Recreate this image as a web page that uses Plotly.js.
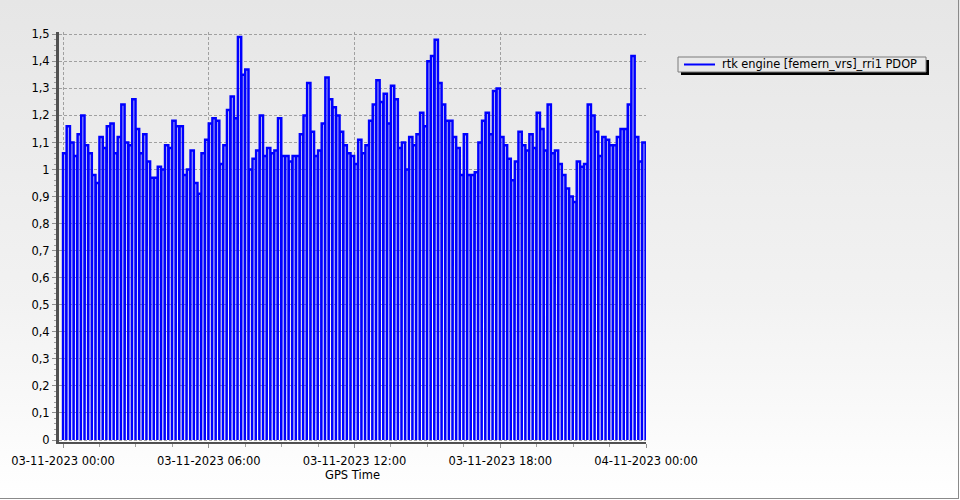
<!DOCTYPE html>
<html>
<head>
<meta charset="utf-8">
<script src="https://cdn.plot.ly/plotly-3.0.1.min.js"></script>
<style>
  html, body { margin: 0; padding: 0; }
  #wrap { position: relative; width: 960px; height: 500px;
          background: linear-gradient(to bottom, #e6e6e6 0%, #f2f2f2 60%, #ffffff 100%); }
  #chart { position: absolute; left: 0; top: 0; width: 960px; height: 500px; }
  #frame { position: absolute; left: 0; top: 0; width: 958px; height: 498px;
           border-right: 1px solid #8a8a8a; border-bottom: 1px solid #8a8a8a; pointer-events: none; }
</style>
</head>
<body>
<div id="wrap"><div id="chart"></div><div id="frame"></div></div>
<script>
// ---- data ----
const seriesName = "rtk engine [femern_vrs]_rri1 PDOP";
const xTitle = "GPS Time";
const startTime = "2023-11-03T00:00:00Z";
const cycleMinutes = 9;      // one logging cycle, ends with an invalid (0) record
const validMinutes = 8;      // valid part of each cycle
const pdop = [
  1.06, 1.16, 1.10, 1.05, 1.13, 1.20, 1.09, 1.06, 0.98, 0.95,
  1.12, 1.08, 1.16, 1.17, 1.06, 1.12, 1.24, 1.10, 1.09, 1.26,
  1.15, 1.06, 1.13, 1.03, 0.97, 0.97, 1.01, 1.00, 1.09, 1.08,
  1.18, 1.16, 1.16, 0.98, 1.00, 1.07, 0.95, 0.91, 1.06, 1.11,
  1.17, 1.19, 1.18, 1.02, 1.09, 1.22, 1.27, 1.19, 1.49, 1.35,
  1.37, 1.00, 1.04, 1.07, 1.20, 1.05, 1.08, 1.06, 1.07, 1.19,
  1.05, 1.05, 1.03, 1.05, 1.05, 1.13, 1.20, 1.32, 1.14, 1.05,
  1.07, 1.17, 1.34, 1.26, 1.23, 1.20, 1.14, 1.09, 1.06, 1.05,
  1.02, 1.11, 1.06, 1.09, 1.18, 1.24, 1.33, 1.25, 1.28, 1.17,
  1.31, 1.26, 1.08, 1.10, 1.00, 1.12, 1.09, 1.13, 1.21, 1.16,
  1.40, 1.42, 1.48, 1.32, 1.24, 1.18, 1.18, 1.12, 1.08, 0.98,
  1.13, 0.98, 0.98, 0.99, 1.10, 1.18, 1.21, 1.13, 1.29, 1.30,
  1.12, 1.09, 1.04, 0.96, 1.03, 1.14, 1.09, 1.07, 1.13, 1.08,
  1.21, 1.15, 1.07, 1.24, 1.06, 1.07, 1.02, 0.98, 0.93, 0.90,
  0.88, 1.03, 1.01, 1.02, 1.24, 1.20, 1.14, 1.05, 1.12, 1.11,
  1.09, 1.09, 1.12, 1.15, 1.15, 1.24, 1.42, 1.12, 1.03, 1.10
];
const yTicks = [0, 0.1, 0.2, 0.3, 0.4, 0.5, 0.6, 0.7, 0.8, 0.9, 1, 1.1, 1.2, 1.3, 1.4, 1.5];

// ---- build the logged record stream: valid values, then an invalid 0 record ----
const MIN = 60000;
const t0 = Date.parse(startTime);
const xs = [], ys = [];
pdop.forEach((v, i) => {
  const ts = t0 + i * cycleMinutes * MIN;
  xs.push(ts); ys.push(0);
  xs.push(ts); ys.push(v);
  xs.push(ts + validMinutes * MIN); ys.push(v);
  xs.push(ts + validMinutes * MIN); ys.push(0);
});
const tEnd = t0 + pdop.length * cycleMinutes * MIN;

const font = { family: "DejaVu Sans, Verdana, sans-serif", size: 11.5, color: "#000000" };
const legendFont = { family: "DejaVu Sans, Verdana, sans-serif", size: 11.4, color: "#000000" };
const blue = "#0000ff";

const trace = {
  type: "scatter", mode: "lines", name: seriesName,
  x: xs, y: ys,
  line: { color: blue, width: 2.5 },
  showlegend: false
};

const L = 59, R = 314, T = 32, B = 58;
const W = 960 - L - R, H = 500 - T - B;
const px = (p) => (p - L) / W;
const py = (p) => (500 - B - p) / H;

const layout = {
  width: 960, height: 500,
  margin: { l: L, r: R, t: T, b: B, pad: 0 },
  paper_bgcolor: "rgba(0,0,0,0)",
  plot_bgcolor: "rgba(0,0,0,0)",
  separators: ", ",
  font: font,
  showlegend: false,
  xaxis: {
    type: "date",
    range: [t0 - 10 * MIN, tEnd],
    tick0: t0, dtick: 6 * 60 * MIN,
    tickformat: "%d-%m-%Y %H:%M",
    ticks: "outside", ticklen: 4, tickcolor: "#909090",
    ticklabelstandoff: 3,
    showgrid: true, gridcolor: "#a0a0a0", griddash: "3px,2px", gridwidth: 1,
    minor: { dtick: 90 * MIN, tick0: t0, ticks: "outside", ticklen: 3, tickcolor: "#a0a0a0", showgrid: false },
    showline: true, linecolor: "#505050", linewidth: 2,
    zeroline: false,
    title: { text: xTitle, font: font, standoff: 3 },
    tickfont: font, fixedrange: true
  },
  yaxis: {
    range: [-0.0074, 1.5085],
    tickvals: yTicks,
    ticks: "outside", ticklen: 4, tickcolor: "#909090",
    showgrid: true, gridcolor: "#a0a0a0", griddash: "3px,2px", gridwidth: 1,
    minor: { dtick: 0.02, tick0: 0, ticks: "outside", ticklen: 2, tickcolor: "#a0a0a0", showgrid: false },
    showline: true, linecolor: "#505050", linewidth: 3,
    zeroline: false,
    tickfont: font, fixedrange: true
  },
  // legend box drawn with shapes + annotation to match the compact boxed key
  shapes: [
    { type: "rect", xref: "paper", yref: "paper", layer: "above",
      x0: px(681), x1: px(929), y0: py(75), y1: py(60),
      fillcolor: "#000000", line: { width: 0 } },
    { type: "rect", xref: "paper", yref: "paper", layer: "above",
      x0: px(678), x1: px(926), y0: py(72), y1: py(57),
      fillcolor: "#e9e9e9", line: { color: "#7a7a7a", width: 1 } },
    { type: "line", xref: "paper", yref: "paper", layer: "above",
      x0: px(684), x1: px(715), y0: py(64.5), y1: py(64.5),
      line: { color: blue, width: 2 } }
  ],
  annotations: [
    { xref: "paper", yref: "paper", x: px(720), y: py(64.5),
      xanchor: "left", yanchor: "middle", showarrow: false,
      text: seriesName, font: legendFont }
  ]
};

Plotly.newPlot("chart", [trace], layout, { displayModeBar: false, staticPlot: true });
</script>
</body>
</html>
